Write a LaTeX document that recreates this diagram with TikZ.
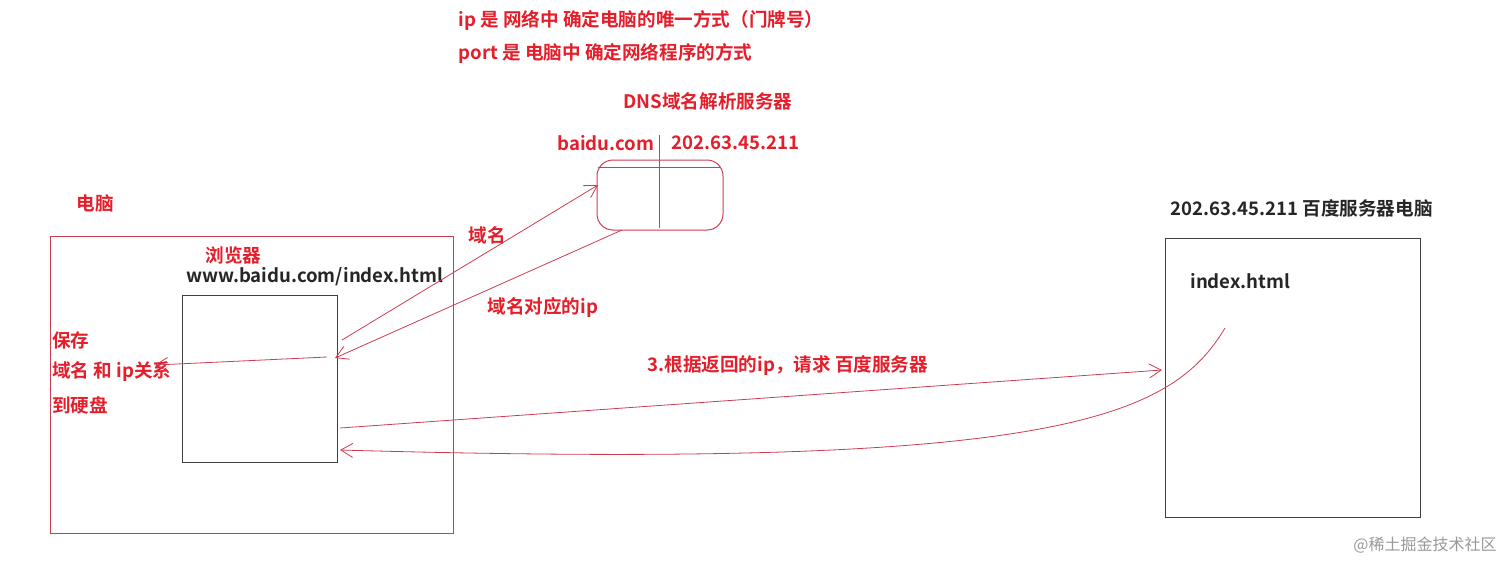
\documentclass[tikz,border=0pt]{standalone}
\usepackage{fontspec}
\setmainfont{Noto Sans CJK SC}
\newfontfamily\cjkb{Noto Sans CJK SC}[BoldFont={* Bold}]
\usetikzlibrary{arrows.meta}
\definecolor{rd}{RGB}{228,30,42}
\definecolor{ln}{RGB}{205,60,80}
\tikzset{
 lbl/.style={font=\cjkb\bfseries\fontsize{9.3}{11}\selectfont, text=rd, inner sep=0pt, anchor=west},
 blk/.style={font=\cjkb\bfseries\fontsize{9.3}{11}\selectfont, text=black!85, inner sep=0pt, anchor=west},
 con/.style={draw=ln, line width=0.4pt, -{Straight Barb[length=6pt,width=7pt]}},
}
\begin{document}
\begin{tikzpicture}[x=0.5pt,y=-0.5pt]
\useasboundingbox (0,0) rectangle (1512,570);
% boxes
\draw[ln, line width=0.5pt] (50,236) rectangle (453,533);
\node[draw=black!75, line width=0.5pt, minimum width=77.5pt, minimum height=83.5pt, inner sep=0pt] (br) at (259.5,378.5) {};
\node[draw=black!75, line width=0.5pt, minimum width=127.5pt, minimum height=139.5pt, inner sep=0pt] (srv) at (1292.5,377.5) {};
\node[draw=ln, line width=0.5pt, rounded corners=8pt, minimum width=63pt, minimum height=35pt, inner sep=0pt] (dns) at (660,195) {};
\draw[ln, line width=0.5pt] (598,167) -- (721,167);
\draw[ln, line width=0.5pt] (659,135) -- (659,228);
% texts
\node[lbl] (t1) at (458,20) {ip 是 网络中 确定电脑的唯一方式（门牌号）};
\node[lbl] (t2) at (458,53) {port 是 电脑中 确定网络程序的方式};
\node[lbl, anchor=center] (dnst) at (708,101) {DNS域名解析服务器};
\node[lbl] (bd) at (557,143) {baidu.com};
\node[lbl] (ipd) at (671,143) {202.63.45.211};
\node[lbl] (pc) at (76,203) {电脑};
\node[lbl] (llq) at (205,255) {浏览器};
\node[blk] (url) at (186,277) {www.baidu.com/index.html};
\node[lbl] (s1) at (52,340) {保存};
\node[lbl] (s2) at (52,372) {域名 和 ip关系};
\node[lbl] (s3) at (52,405) {到硬盘};
\node[lbl] (ym) at (468,235) {域名};
\node[lbl] (ymip) at (487,307) {域名对应的ip};
\node[lbl] (req) at (647,366) {3.根据返回的ip，请求 百度服务器};
\node[blk] (srvt) at (1170,208) {202.63.45.211 百度服务器电脑};
\node[blk] (idx) at (1190,281) {index.html};
\node[font=\fontsize{8}{9}\selectfont, text=black!40, inner sep=0pt, anchor=east] (wm) at (1497,545) {@稀土掘金技术社区};
% connectors
\coordinate (a1) at (342,340);
\coordinate (a2) at (598,185);
\draw[con] (a1) -- (a2);
\coordinate (b1) at (622,230);
\coordinate (b2) at (335,358);
\draw[con] (b1) -- (b2);
\coordinate (c1) at (327,357);
\coordinate (c2) at (155,365);
\draw[con] (c1) -- (c2);
\coordinate (d1) at (340,428);
\coordinate (d2) at (1162,370);
\draw[con] (d1) -- (d2);
\coordinate (e1) at (1225,328);
\coordinate (e2) at (340,450);
\draw[con] (e1) .. controls (1170,420) and (1050,470) .. (e2);
\end{tikzpicture}
\end{document}
